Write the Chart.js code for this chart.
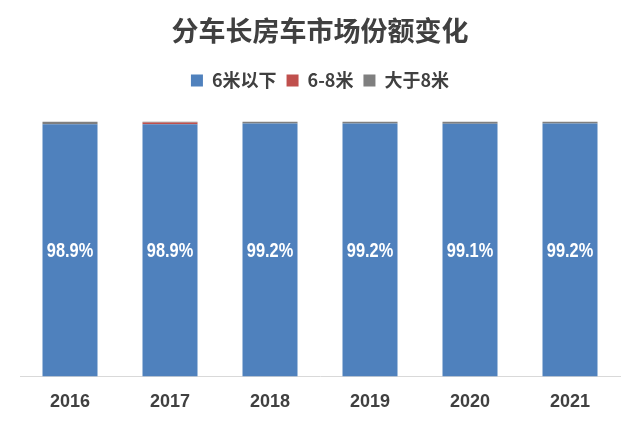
<!DOCTYPE html>
<html><head><meta charset="utf-8">
<script src="https://cdn.jsdelivr.net/npm/chart.js@4"></script>
<style>html,body{margin:0;padding:0;background:#fff;overflow:hidden}#wrap{width:640px;height:426px;position:relative}</style>
</head><body><div id="wrap"><canvas id="c"></canvas></div>
<script>
const categories = ['2016','2017','2018','2019','2020','2021'];
const under6 = [98.9, 98.9, 99.2, 99.2, 99.1, 99.2];
const from6to8 = [0.0, 0.7, 0.0, 0.0, 0.0, 0.0];
const over8 = [1.1, 0.4, 0.8, 0.8, 0.9, 0.8];
const seriesNames = ['6米以下','6-8米','大于8米'];

const labelPlugin = {
  id: 'labels',
  afterDatasetsDraw(chart) {
    const ctx = chart.ctx;
    const meta = chart.getDatasetMeta(0);
    const sx = 0.78;
    ctx.save();
    ctx.fillStyle = '#ffffff';
    ctx.font = 'bold 21px "Liberation Sans", Arial, sans-serif';
    ctx.textAlign = 'center';
    ctx.textBaseline = 'middle';
    meta.data.forEach((bar, i) => {
      const y = (bar.y + bar.base) / 2;
      ctx.save();
      ctx.translate(bar.x, y + 1);
      ctx.scale(sx, 1);
      ctx.fillText(under6[i].toFixed(1) + '%', 0, 0);
      ctx.restore();
    });
    ctx.restore();
  }
};

const legendSpace = {
  id: 'legendSpace',
  beforeInit(chart) {
    const origFit = chart.legend.fit;
    chart.legend.fit = function () {
      origFit.bind(chart.legend)();
      this.height += 22;
    };
  }
};

new Chart(document.getElementById('c'), {
  type: 'bar',
  data: {
    labels: categories,
    datasets: [
      { label: seriesNames[0], data: under6, backgroundColor: '#4F81BD' },
      { label: seriesNames[1], data: from6to8, backgroundColor: '#C0504D' },
      { label: seriesNames[2], data: over8, backgroundColor: '#7F7F7F' }
    ]
  },
  options: {
    responsive: true,
    maintainAspectRatio: false,
    animation: false,
    devicePixelRatio: 1,
    layout: { padding: { left: 20, right: 20, top: 15, bottom: -2 } },
    datasets: { bar: { barPercentage: 0.55, categoryPercentage: 1.0 } },
    plugins: {
      title: {
        display: true,
        text: '分车长房车市场份额变化',
        color: '#404040',
        font: { size: 27, weight: 'bold', family: '"Noto Sans CJK SC", sans-serif' },
        padding: { top: 0, bottom: 14 }
      },
      legend: {
        display: true,
        labels: {
          color: '#404040',
          boxWidth: 12, boxHeight: 12,
          font: { size: 18, weight: 'bold', family: '"Noto Sans CJK SC", sans-serif' },
          padding: 10
        }
      },
      tooltip: { enabled: false }
    },
    scales: {
      x: {
        stacked: true,
        grid: { display: false, drawTicks: false },
        border: { display: true, color: '#D9D9D9', width: 1 },
        ticks: { color: '#404040', padding: 15, font: { size: 18, weight: 'bold', family: '"Liberation Sans", Arial, sans-serif' } }
      },
      y: {
        stacked: true, display: false, min: 0, max: 100
      }
    }
  },
  plugins: [labelPlugin, legendSpace]
});
</script></body></html>
